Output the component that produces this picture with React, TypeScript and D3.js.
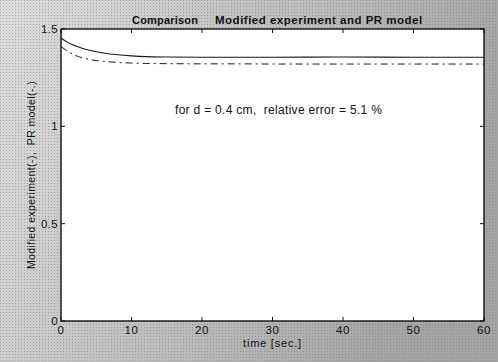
import React from "react";
import * as d3 from "d3";

// Time samples (s) and the two response curves
const timeSec = [0, 1, 2, 3, 4, 5, 6, 8, 10, 12, 15, 20, 25, 30, 40, 50, 60];
const modifiedExperiment = [1.454, 1.43, 1.414, 1.401, 1.391, 1.383, 1.377, 1.368, 1.362, 1.358, 1.356, 1.355, 1.355, 1.355, 1.356, 1.355, 1.355];
const prModel = [1.41, 1.384, 1.365, 1.352, 1.344, 1.338, 1.334, 1.328, 1.325, 1.323, 1.322, 1.321, 1.321, 1.32, 1.32, 1.32, 1.32];

const xTicks = [0, 10, 20, 30, 40, 50, 60];
const yTicks = [0, 0.5, 1, 1.5];
const yTickLabels = ["0", "0.5", "1", "1.5"];

const titleLeft = "Comparison";
const titleRight = "Modified experiment and PR model";
const xLabel = "time [sec.]";
const yLabel = "Modified experiment(-),  PR model(-.)";
const note = "for d = 0.4 cm,  relative error = 5.1 %";

const W = 498;
const H = 362;
const plot = { left: 61, top: 29, right: 484, bottom: 321 };
const font = "'Liberation Sans', Arial, sans-serif";

export default function App() {
  const x = d3.scaleLinear().domain([0, 60]).range([plot.left, plot.right]);
  const y = d3.scaleLinear().domain([0, 1.5]).range([plot.bottom, plot.top]);

  const line = d3
    .line<number>()
    .x((_, i) => x(timeSec[i]))
    .y((v) => y(v))
    .curve(d3.curveMonotoneX);

  const pw = plot.right - plot.left;
  const ph = plot.bottom - plot.top;

  return (
    <svg
      width={W}
      height={H}
      style={{ position: "absolute", left: 0, top: 0, display: "block" }}
    >
      <defs>
        <linearGradient id="bgGrad" x1="0" y1="0" x2="1" y2="0.3">
          <stop offset="0" stopColor="#dedede" />
          <stop offset="0.5" stopColor="#c0c0c0" />
          <stop offset="1" stopColor="#a4a4a4" />
        </linearGradient>
        <pattern id="dots" width="3" height="3" patternUnits="userSpaceOnUse">
          <rect width="3" height="3" fill="none" />
          <rect width="1" height="1" fill="#6a6a6a" opacity="0.45" />
        </pattern>
      </defs>
      <rect x={0} y={0} width={W} height={H} fill="url(#bgGrad)" />
      <rect x={0} y={0} width={W} height={H} fill="url(#dots)" />

      <rect x={plot.left} y={plot.top} width={pw} height={ph} fill="#ffffff" />

      {/* curves */}
      <path d={line(modifiedExperiment) || ""} fill="none" stroke="#1a1a1a" strokeWidth={1.1} />
      <path
        d={line(prModel) || ""}
        fill="none"
        stroke="#1a1a1a"
        strokeWidth={1}
        strokeDasharray="7,4,2,4"
      />

      {/* frame */}
      <rect
        x={plot.left}
        y={plot.top}
        width={pw}
        height={ph}
        fill="none"
        stroke="#111"
        strokeWidth={1.4}
      />

      {/* x ticks */}
      {xTicks.map((t) => (
        <g key={"x" + t}>
          <line x1={x(t)} x2={x(t)} y1={plot.bottom} y2={plot.bottom - 4} stroke="#111" />
          <line x1={x(t)} x2={x(t)} y1={plot.top} y2={plot.top + 4} stroke="#111" />
          <text
            x={x(t)}
            y={plot.bottom + 13}
            textAnchor="middle"
            fontFamily={font}
            fontSize={11.5}
            letterSpacing={0.5}
            fill="#111"
          >
            {t}
          </text>
        </g>
      ))}

      {/* y ticks */}
      {yTicks.map((t, i) => (
        <g key={"y" + t}>
          <line x1={plot.left} x2={plot.left + 4} y1={y(t)} y2={y(t)} stroke="#111" />
          <line x1={plot.right} x2={plot.right - 4} y1={y(t)} y2={y(t)} stroke="#111" />
          <text
            x={plot.left - 3}
            y={y(t) + 4}
            textAnchor="end"
            fontFamily={font}
            fontSize={11.5}
            letterSpacing={0.3}
            fill="#111"
          >
            {yTickLabels[i]}
          </text>
        </g>
      ))}

      {/* title */}
      <text
        x={132}
        y={plot.top - 5}
        fontFamily={font}
        fontSize={11}
        fontWeight="bold"
        letterSpacing={0.2}
        fill="#111"
      >
        {titleLeft}
      </text>
      <text
        x={215}
        y={plot.top - 5}
        fontFamily={font}
        fontSize={11.5}
        fontWeight="bold"
        letterSpacing={0.5}
        fill="#111"
      >
        {titleRight}
      </text>

      <text
        x={(plot.left + plot.right) / 2}
        y={plot.bottom + 26}
        textAnchor="middle"
        fontFamily={font}
        fontSize={11}
        letterSpacing={0.8}
        fill="#111"
      >
        {xLabel}
      </text>

      <text
        transform={`translate(${35},${(plot.top + plot.bottom) / 2}) rotate(-90)`}
        textAnchor="middle"
        fontFamily={font}
        fontSize={10.5}
        letterSpacing={0.4}
        fill="#111"
        style={{ whiteSpace: "pre" }}
      >
        {yLabel}
      </text>

      <text
        x={175}
        y={114}
        fontFamily={font}
        fontSize={12}
        letterSpacing={0.3}
        fill="#111"
        style={{ whiteSpace: "pre" }}
      >
        {note}
      </text>
    </svg>
  );
}
